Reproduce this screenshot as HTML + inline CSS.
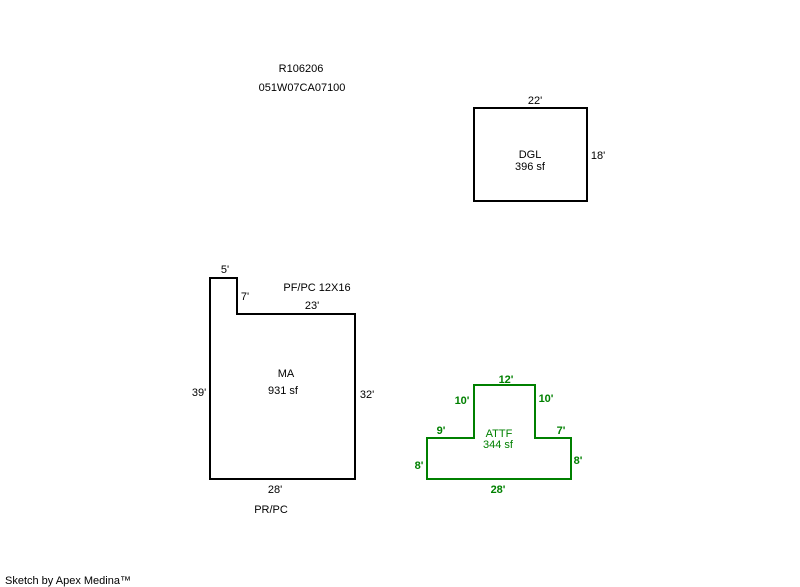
<!DOCTYPE html>
<html><head><style>body{margin:0;background:#fff}svg{display:block}text{font-family:"Liberation Sans",sans-serif;font-size:11px}</style></head><body>
<svg width="800" height="587" xmlns="http://www.w3.org/2000/svg">
<g fill="none" stroke-width="2">
<rect x="474" y="108" width="113" height="93" stroke="#000"/>
<polygon points="210,278 237,278 237,314 355,314 355,479 210,479" stroke="#000"/>
<polygon points="427,479 427,438 474,438 474,385 535,385 535,438 571,438 571,479" stroke="#008000"/>
</g>
<g fill="#000" text-anchor="middle">
<text x="301" y="72">R106206</text>
<text x="302" y="91">051W07CA07100</text>
<text x="535" y="104">22'</text>
<text x="598" y="159">18'</text>
<text x="530" y="158">DGL</text>
<text x="530" y="170">396 sf</text>
<text x="225" y="273">5'</text>
<text x="245" y="300">7'</text>
<text x="317" y="291">PF/PC 12X16</text>
<text x="312" y="309">23'</text>
<text x="286" y="377">MA</text>
<text x="283" y="394">931 sf</text>
<text x="199" y="396">39'</text>
<text x="367" y="398">32'</text>
<text x="275" y="493">28'</text>
<text x="271" y="513">PR/PC</text>
<text x="5" y="584" text-anchor="start">Sketch by Apex Medina™</text>
</g>
<g fill="#008000" text-anchor="middle">
<text x="506" y="383" font-weight="bold">12'</text>
<text x="462" y="404" font-weight="bold">10'</text>
<text x="546" y="402" font-weight="bold">10'</text>
<text x="441" y="434" font-weight="bold">9'</text>
<text x="561" y="434" font-weight="bold">7'</text>
<text x="499" y="437">ATTF</text>
<text x="498" y="448">344 sf</text>
<text x="419" y="469" font-weight="bold">8'</text>
<text x="578" y="464" font-weight="bold">8'</text>
<text x="498" y="493" font-weight="bold">28'</text>
</g>
</svg>
</body></html>
